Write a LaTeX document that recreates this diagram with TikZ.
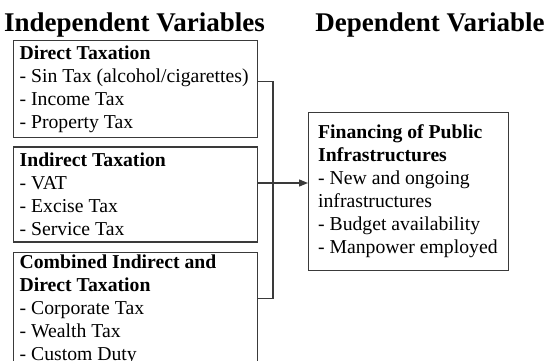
\documentclass[tikz,border=0pt]{standalone}
\usepackage{fontspec}
\setmainfont{Liberation Serif}
\usetikzlibrary{arrows.meta,positioning}
\definecolor{BoxLine}{HTML}{3A3A3A}
\tikzset{
  varbox/.style={draw=BoxLine, line width=1.3pt, align=flush left, text width=232pt, inner xsep=6pt, inner ysep=3pt, font=\fontsize{19.7}{23}\selectfont},
  depbox/.style={varbox, text width=181pt, inner xsep=9.5pt},
  heading/.style={font=\fontsize{27}{30}\selectfont\bfseries, inner sep=0pt, anchor=base},
  link/.style={draw=BoxLine, line width=1.3pt},
  arrow/.style={link, -{Triangle[length=9pt,width=7pt]}}
}
\begin{document}
\begin{tikzpicture}[x=1pt, y=-1pt]
    \useasboundingbox (0,0) rectangle (546,360);
    \node[heading] (indep) at (134.5,31) {Independent Variables};
    \node[heading] (dep) at (430,31) {Dependent Variable};

    \node[varbox, minimum height=97pt, anchor=north west] (direct) at (13,40) {\textbf{Direct Taxation}\\- Sin Tax (alcohol/cigarettes)\\- Income Tax\\- Property Tax};
    \node[varbox, minimum height=95pt, below=8pt of direct] (indirect) {\textbf{Indirect Taxation}\\- VAT\\- Excise Tax\\- Service Tax};
    \node[varbox, below=9pt of indirect] (combined) {\textbf{Combined Indirect and}\\\textbf{Direct Taxation}\\- Corporate Tax\\- Wealth Tax\\- Custom Duty};
    \node[depbox, minimum height=158pt, anchor=north west] (finance) at (308,112) {\textbf{Financing of Public}\\\textbf{Infrastructures}\\- New and ongoing\\infrastructures\\- Budget availability\\- Manpower employed};

    \coordinate (join) at (273,183);
    \draw[link] ([yshift=7.5pt]direct.east) -| (join);
    \draw[link] ([yshift=-47pt]combined.north east) -| (join);
    \draw[arrow] (indirect.east |- join) -- (finance.west |- join);
\end{tikzpicture}
\end{document}
